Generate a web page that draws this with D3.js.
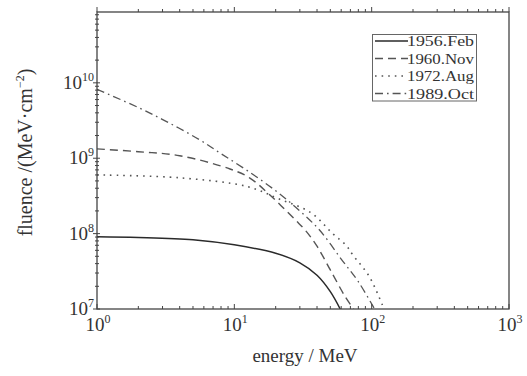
<!DOCTYPE html>
<html>
<head>
<meta charset="utf-8">
<script src="https://cdn.jsdelivr.net/npm/d3@7"></script>
<style>
  body { margin: 0; background: #fff; }
  text { font-family: "Liberation Serif", "DejaVu Serif", serif; fill: #333; }
</style>
</head>
<body>
<div id="chart"></div>
<script>
// data: energy (MeV) -> fluence (MeV cm^-2)
var seriesNames = ['1956.Feb', '1960.Nov', '1972.Aug', '1989.Oct'];
var feb1956 = [[1, 9.1e7], [2, 8.9e7], [5, 8.3e7], [10, 7.1e7], [20, 5.5e7], [30, 4.1e7],
               [40, 2.8e7], [50, 1.7e7], [59, 1.0e7]];
var nov1960 = [[1, 1.33e9], [2, 1.22e9], [4, 1.08e9], [9.3, 7.2e8], [12.9, 5.5e8], [18, 3.3e8],
               [28, 1.5e8], [33, 1.1e8], [40, 6.8e7], [50, 3.3e7], [65, 1.4e7], [74, 1.0e7]];
var aug1972 = [[1, 6.0e8], [4, 5.5e8], [12.5, 4.2e8], [21, 2.9e8], [36, 1.9e8], [52, 1.0e8],
               [65, 7.0e7], [73, 5.2e7], [96, 2.7e7], [123, 1.0e7]];
var oct1989 = [[1, 8.2e9], [2, 4.7e9], [3.4, 2.9e9], [5.6, 1.75e9], [8, 1.15e9], [12.5, 6.8e8],
               [20, 3.7e8], [30, 2.0e8], [42, 1.1e8], [60, 4.6e7], [80, 2.3e7], [105, 1.0e7]];
var allSeries = [feb1956, nov1960, aug1972, oct1989];
var xTicks = [0, 1, 2, 3];      // powers of ten
var yTicks = [7, 8, 9, 10];

var width = 527, height = 376;
var margin = {'left': 97, 'right': 18, 'top': 12, 'bottom': 67};
var styles = [
    {'dash': null, 'color': '#2a2a2a', 'w': 1.5},
    {'dash': '8,5', 'color': '#555', 'w': 1.4},
    {'dash': '1.6,5', 'color': '#555', 'w': 1.6},
    {'dash': '8,4,1.6,4', 'color': '#555', 'w': 1.3}
];

var svg = d3.select('#chart').append('svg')
            .attr('width', width).attr('height', height);

var x = d3.scaleLog().domain([1, 1000])
          .range([margin.left, width - margin.right]);
var y = d3.scaleLog().domain([1e7, 8.7e10])
          .range([height - margin.bottom, margin.top]);

var x0 = margin.left, x1 = width - margin.right;
var y0 = height - margin.bottom, y1 = margin.top;

svg.append('clipPath').attr('id', 'plotclip')
   .append('rect').attr('x', x0).attr('y', y1)
   .attr('width', x1 - x0).attr('height', y0 - y1);

// curves
var line = d3.line()
             .x(function (d) { return x(d[0]); })
             .y(function (d) { return y(d[1]); })
             .curve(d3.curveCatmullRom.alpha(0.5));
svg.append('g').attr('clip-path', 'url(#plotclip)')
   .selectAll('path').data(allSeries).enter()
   .append('path')
   .attr('d', line)
   .attr('fill', 'none')
   .attr('stroke', function (d, i) { return styles[i].color; })
   .attr('stroke-width', function (d, i) { return styles[i].w; })
   .attr('stroke-dasharray', function (d, i) { return styles[i].dash; });

// frame
var frame = svg.append('g').attr('stroke', '#444').attr('fill', 'none');
frame.append('rect').attr('x', x0).attr('y', y1)
     .attr('width', x1 - x0).attr('height', y0 - y1).attr('stroke-width', 1.3);

// minor + major ticks
var xMinor = [], yMinor = [];
for (var p = 0; p < 3; p++) {
    for (var m = 2; m < 10; m++) xMinor.push(m * Math.pow(10, p));
}
for (var p = 7; p < 11; p++) {
    for (var m = 2; m < 10; m++) {
        if (m * Math.pow(10, p) <= y.domain()[1]) yMinor.push(m * Math.pow(10, p));
    }
}
xMinor.forEach(function (v) {
    frame.append('line').attr('x1', x(v)).attr('x2', x(v)).attr('y1', y0).attr('y2', y0 - 3);
    frame.append('line').attr('x1', x(v)).attr('x2', x(v)).attr('y1', y1).attr('y2', y1 - 3);
});
xTicks.forEach(function (p) {
    var v = Math.pow(10, p);
    frame.append('line').attr('x1', x(v)).attr('x2', x(v)).attr('y1', y0).attr('y2', y0 - 5);
    frame.append('line').attr('x1', x(v)).attr('x2', x(v)).attr('y1', y1).attr('y2', y1 - 5);
});
yMinor.forEach(function (v) {
    frame.append('line').attr('x1', x0 - 2).attr('x2', x0 + 2).attr('y1', y(v)).attr('y2', y(v));
});
yTicks.forEach(function (p) {
    var v = Math.pow(10, p);
    frame.append('line').attr('x1', x0 - 4).attr('x2', x0 + 3).attr('y1', y(v)).attr('y2', y(v));
});

// tick labels
function powLabel(g, px, py, p, anchor) {
    var t = g.append('text').attr('x', px).attr('y', py)
             .attr('text-anchor', anchor).style('font-size', '19px');
    t.append('tspan').text('10');
    t.append('tspan').attr('dy', -8).style('font-size', '12px').text(p);
    return t;
}
var labels = svg.append('g');
xTicks.forEach(function (p) {
    powLabel(labels, x(Math.pow(10, p)) + 1, y0 + 22, p, 'middle');
});
yTicks.forEach(function (p) {
    powLabel(labels, x0 - 3, y(Math.pow(10, p)) + 6, p, 'end');
});

// axis titles
svg.append('text').attr('x', 305).attr('y', 362)
   .attr('text-anchor', 'middle').style('font-size', '19px')
   .text('energy / MeV');
var yt = svg.append('text')
   .attr('transform', 'translate(32,' + ((y0 + y1) / 2 - 8) + ') rotate(-90)')
   .attr('text-anchor', 'middle').style('font-size', '20px');
yt.append('tspan').text('fluence /(MeV\u00b7cm');
yt.append('tspan').attr('dy', -8).style('font-size', '12px').text('\u22122');
yt.append('tspan').attr('dy', 8).text(')');

// legend
var lg = svg.append('g');
lg.append('rect').attr('x', 372.5).attr('y', 34.5).attr('width', 104).attr('height', 66.5)
  .attr('fill', '#fff').attr('stroke', '#666').attr('stroke-width', 1);
seriesNames.forEach(function (name, i) {
    var ly = 41 + i * 17.5;
    lg.append('line').attr('x1', 375).attr('x2', 408).attr('y1', ly).attr('y2', ly)
      .attr('stroke', styles[i].color).attr('stroke-width', styles[i].w)
      .attr('stroke-dasharray', styles[i].dash);
    lg.append('text').attr('x', 407).attr('y', ly + 5)
      .attr('textLength', 67).attr('lengthAdjust', 'spacingAndGlyphs')
      .style('font-size', '15px').text(name);
});
</script>
</body>
</html>
